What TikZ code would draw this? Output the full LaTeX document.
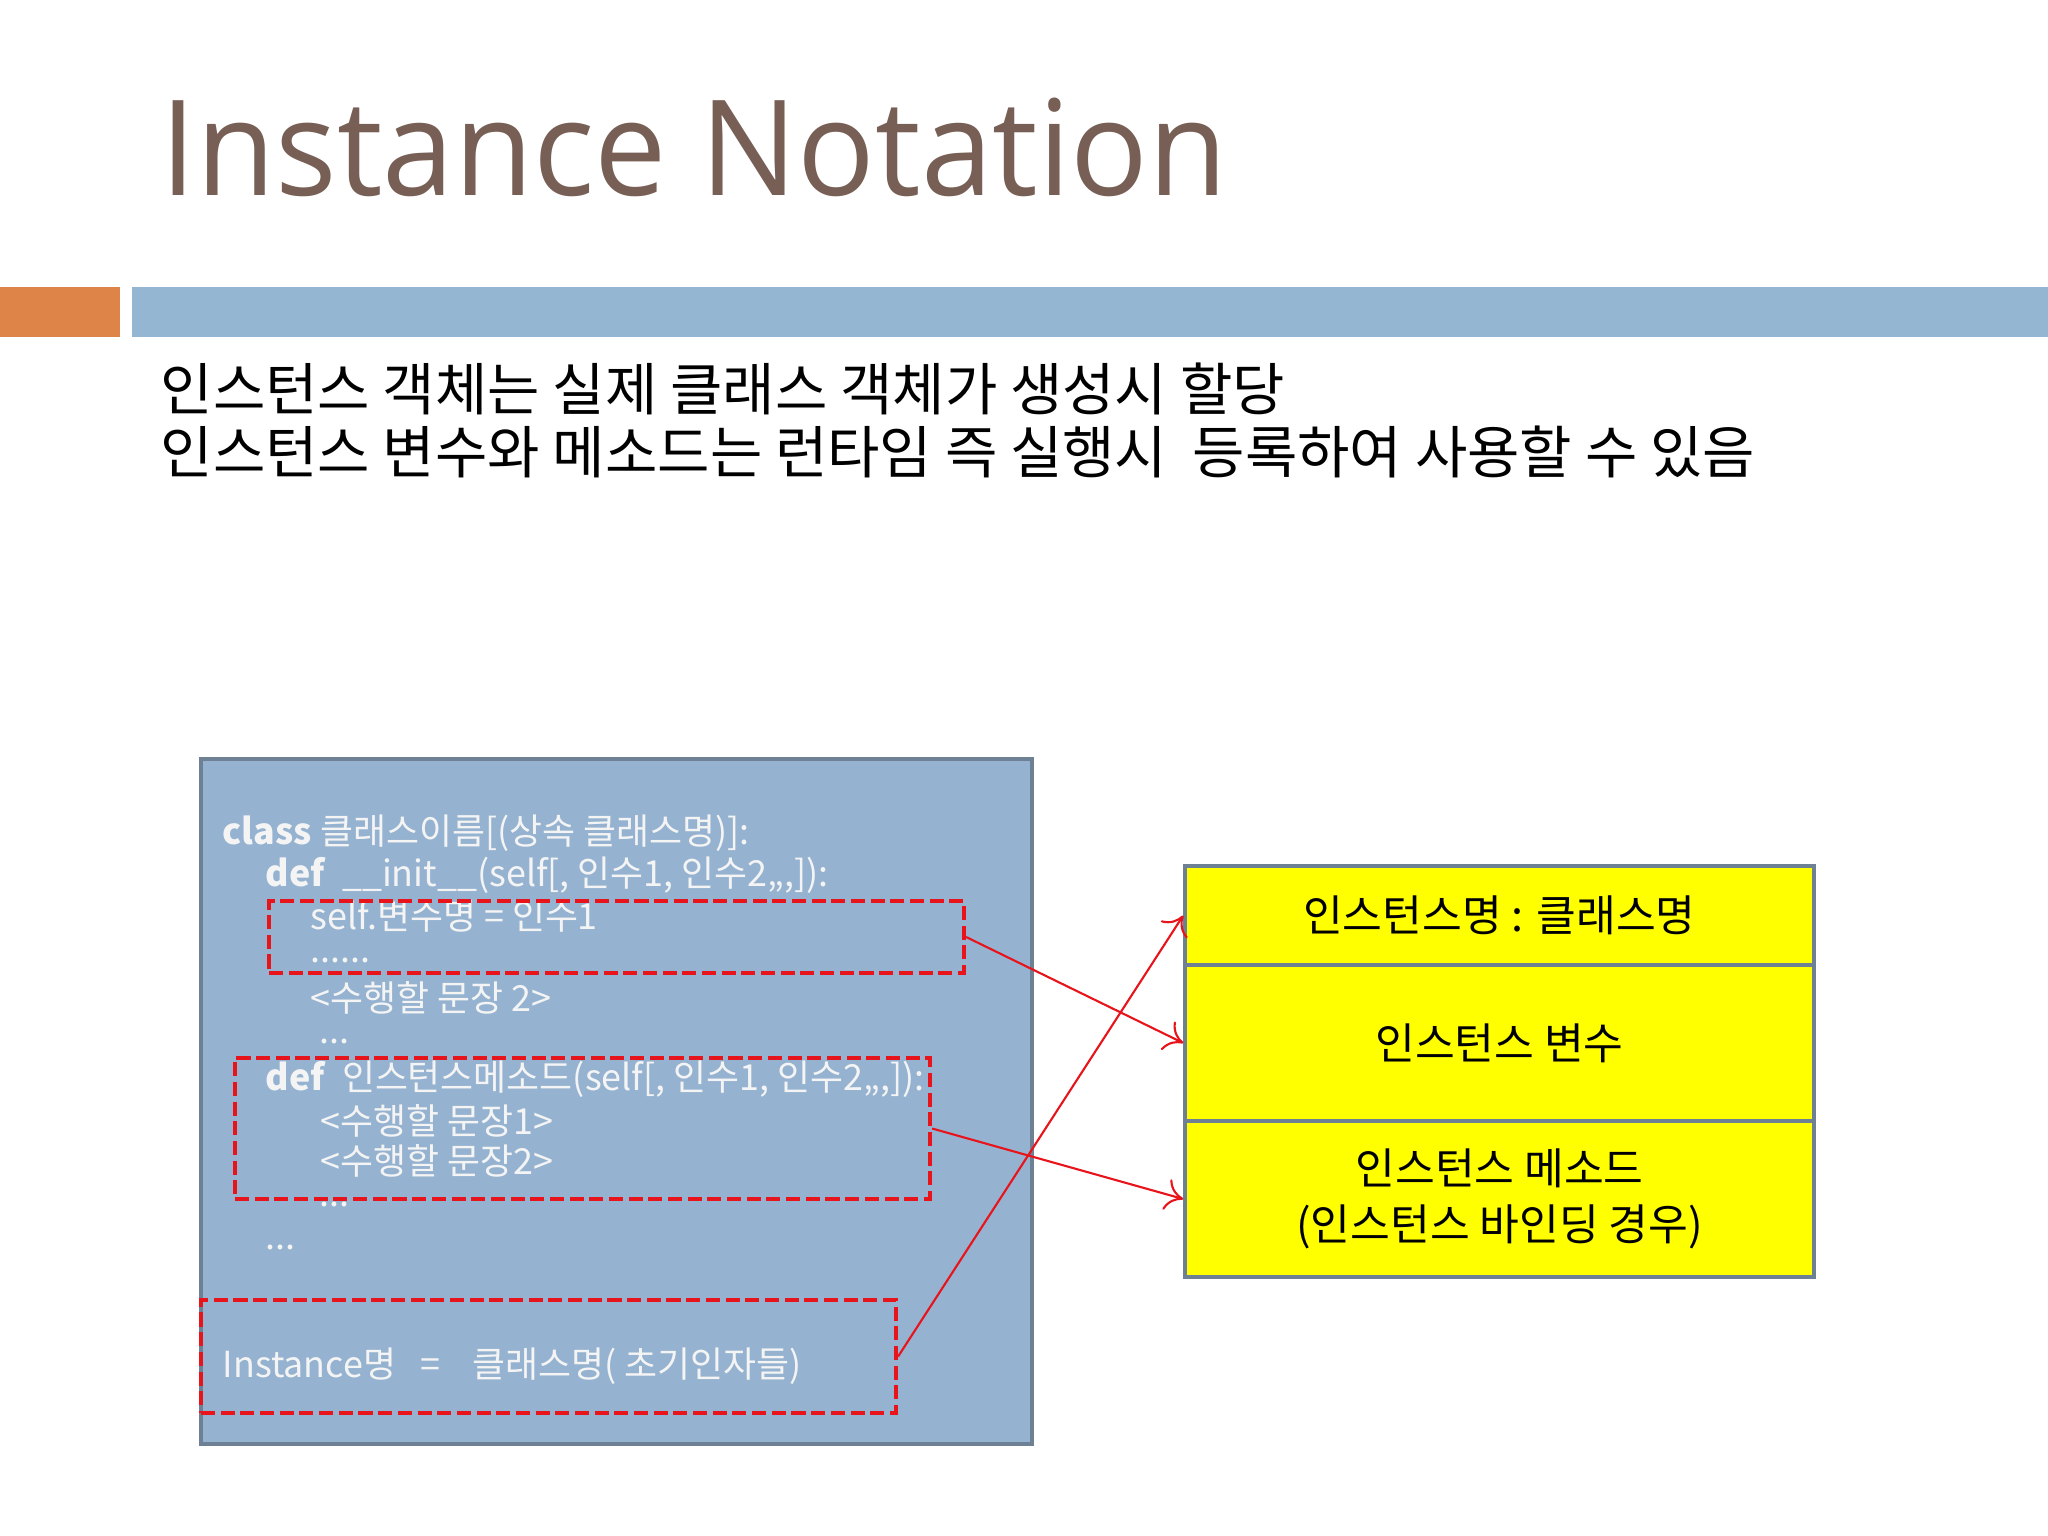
\documentclass[tikz,border=0pt]{standalone}
\usepackage{fontspec}
\setmainfont{Noto Sans CJK KR}
\newfontfamily\titlefont[FakeStretch=0.97]{Open Sans}
\usetikzlibrary{arrows.meta}
\definecolor{titlebrown}{RGB}{119,95,85}
\definecolor{barorange}{RGB}{222,132,73}
\definecolor{barblue}{RGB}{148,182,210}
\definecolor{codefill}{RGB}{149,179,208}
\definecolor{boxgray}{RGB}{110,128,148}
\definecolor{codewhite}{RGB}{244,244,244}
\definecolor{dashred}{RGB}{232,20,27}
\definecolor{rowyellow}{RGB}{255,255,0}

\begin{document}
\begin{tikzpicture}[x=1cm,y=-1cm,
    codeline/.style={anchor=west,inner sep=0pt,text=codewhite,font=\fontsize{10.2}{12}\selectfont},
    dashbox/.style={draw=dashred,line width=1.2pt,dash pattern=on 4pt off 1.6pt,minimum width=6.95cm,inner sep=0pt},
    rowbox/.style={draw=boxgray,line width=1pt,fill=rowyellow,minimum width=6.29cm,align=center,font=\fontsize{12.3}{16}\selectfont},
    arrowline/.style={draw=dashred,line width=0.6pt,-{To[length=5pt,width=9pt]}}]
    \useasboundingbox (0,0) rectangle (20.48,15.36);

    \node[anchor=base west,inner sep=0pt,text=titlebrown,font=\titlefont\fontsize{37.8}{40}\selectfont] (title) at (1.60,1.96) {Instance Notation};
    \fill[barorange] (0,2.87) rectangle (1.20,3.37);
    \fill[barblue] (1.32,2.87) rectangle (20.48,3.37);

    \node[anchor=west,inner sep=0pt,font=\fontsize{16.2}{18}\selectfont] (intro) at (1.60,3.89) {인스턴스 객체는 실제 클래스 객체가 생성시 할당};
    \node[anchor=west,inner sep=0pt,font=\fontsize{16.2}{18}\selectfont] (intro2) at (1.60,4.52) {인스턴스 변수와 메소드는 런타임 즉 실행시\ \ 등록하여 사용할 수 있음};

    \node[draw=boxgray,line width=0.9pt,fill=codefill,minimum width=8.31cm,minimum height=6.85cm] (codebox) at (6.165,11.015) {};

    \node[codeline] (clsline) at (2.22,8.33) {\textbf{class} 클래스이름[(상속 클래스명)]:};
    \node[codeline] (initline) at (2.65,8.75) {\textbf{def}\ \ \_\_init\_\_(self[, 인수1, 인수2,,,]):};
    \node[codeline] (selfline) at (3.10,9.16) {self.변수명 = 인수1};
    \node[codeline] (dotsa) at (3.10,9.60) {......};
    \node[codeline] (stmtline) at (3.10,9.98) {<수행할 문장 2>};
    \node[codeline] (dotsb) at (3.19,10.41) {...};
    \node[codeline] (defline) at (2.65,10.79) {\textbf{def}\ \ 인스턴스메소드(self[, 인수1, 인수2,,,]):};
    \node[codeline] (stmtone) at (3.20,11.21) {<수행할 문장1>};
    \node[codeline] (stmttwo) at (3.20,11.61) {<수행할 문장2>};
    \node[codeline] (dotsc) at (3.19,12.04) {...};
    \node[codeline] (dotsd) at (2.65,12.47) {...};
    \node[codeline] (instline) at (2.22,13.66) {Instance명\ \ \ =\ \ \ \ 클래스명( 초기인자들)};

    \node[dashbox,minimum height=0.72cm] (selfbox) at (6.165,9.37) {};
    \node[dashbox,minimum height=1.41cm] (defbox) at (5.825,11.285) {};
    \node[dashbox,minimum height=1.13cm] (instbox) at (5.485,13.565) {};

    \node[rowbox,minimum height=0.99cm] (namerow) at (14.995,9.155) {인스턴스명 : 클래스명};
    \node[rowbox,minimum height=1.56cm] (varrow) at (14.995,10.43) {인스턴스 변수};
    \node[rowbox,minimum height=1.56cm] (methrow) at (14.995,11.99) {인스턴스 메소드\\(인스턴스 바인딩 경우)};

    \draw[arrowline] (selfbox.east) -- (varrow.west);
    \draw[arrowline] (defbox.east) -- (methrow.west);
    \draw[arrowline] (instbox.east) -- (namerow.west);
\end{tikzpicture}
\end{document}
